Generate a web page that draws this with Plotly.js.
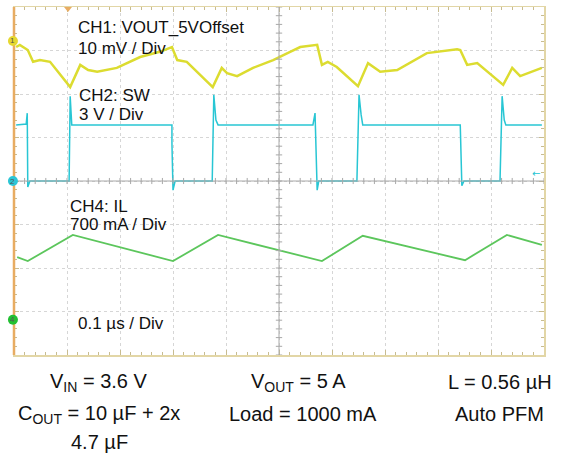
<!DOCTYPE html>
<html>
<head>
<meta charset="utf-8">
<script src="https://cdn.plot.ly/plotly-3.0.1.min.js"></script>
<style>html,body{margin:0;padding:0;background:#fff;}#chart{width:565px;height:458px;}</style>
</head>
<body>
<div id="chart"></div>
<script>
// Time axis in µs (0.1 µs / div), vertical values in screen divisions
var ch1Time = [0.004,0.011,0.026,0.036,0.049,0.068,0.106,0.125,0.140,0.157,0.194,0.238,0.275,0.298,0.308,0.326,0.375,0.392,0.402,0.421,0.451,0.489,0.521,0.540,0.572,0.581,0.592,0.609,0.649,0.668,0.691,0.723,0.779,0.836,0.842,0.855,0.874,0.923,0.940,0.955,0.996];
var ch1Div  = [3.08,3.13,3.01,2.74,2.78,2.74,2.16,2.67,2.55,2.51,2.60,2.85,2.97,3.08,2.78,2.74,2.16,2.60,2.48,2.41,2.60,2.78,2.97,3.08,3.13,2.67,2.74,2.62,2.18,2.71,2.51,2.55,2.94,3.03,3.01,2.67,2.71,2.21,2.60,2.41,2.60];

var ch2Time = [0.004,0.023,0.025,0.026,0.030,0.102,0.104,0.106,0.108,0.109,0.298,0.298,0.300,0.304,0.374,0.377,0.381,0.385,0.564,0.568,0.572,0.575,0.647,0.651,0.655,0.658,0.842,0.843,0.845,0.849,0.917,0.921,0.925,0.928,0.996];
var ch2Div  = [1.29,1.31,1.56,-0.14,0.00,0.00,0.00,1.95,1.45,1.29,1.29,0.87,-0.21,0.00,0.00,1.98,1.40,1.29,1.29,1.56,-0.21,0.00,0.00,1.98,1.52,1.29,1.29,0.76,-0.11,0.00,0.00,1.95,1.40,1.29,1.29];

var ch4Time = [0.006,0.026,0.111,0.300,0.385,0.581,0.658,0.851,0.930,0.996];
var ch4Div  = [-1.75,-1.84,-1.24,-1.84,-1.24,-1.84,-1.26,-1.82,-1.24,-1.47];

var chLabels = [
  {t:'CH1: VOUT_5VOffset', x:76, y:27},
  {t:'10 mV / Div', x:76, y:48},
  {t:'CH2: SW', x:77, y:95},
  {t:'3 V / Div', x:77, y:114},
  {t:'CH4: IL', x:68, y:206},
  {t:'700 mA / Div', x:68, y:225},
  {t:'0.1 µs / Div', x:76, y:323}
];
var noteLabels = [
  {t:'V<sub>IN</sub> = 3.6 V', x:98, y:382},
  {t:'V<sub>OUT</sub> = 5 A', x:298, y:382},
  {t:'L = 0.56 µH', x:500, y:382},
  {t:'C<sub>OUT</sub> = 10 µF + 2x', x:99, y:414},
  {t:'Load = 1000 mA', x:303, y:414},
  {t:'Auto PFM', x:499, y:414},
  {t:'4.7 µF', x:99, y:442}
];

var L = 14, R = 544, T = 7, B = 355;
function px(x){ return (x - L) / (R - L); }
function py(y){ return (B - y) / (B - T); }

var traces = [
  {x: ch1Time, y: ch1Div, mode:'lines', line:{color:'#dcdc30', width:2.5}, hoverinfo:'skip'},
  {x: ch2Time, y: ch2Div, mode:'lines', line:{color:'#28c6d4', width:1.5}, hoverinfo:'skip'},
  {x: ch4Time, y: ch4Div, mode:'lines', line:{color:'#5cc65c', width:1.8}, hoverinfo:'skip'}
];

var shapes = [
  {type:'line', xref:'x', yref:'paper', x0:0.5, x1:0.5, y0:0, y1:1, line:{color:'#a8a8a8', width:1}},
  {type:'line', xref:'paper', yref:'y', x0:0, x1:1, y0:0, y1:0, line:{color:'#a8a8a8', width:1}},
  {type:'line', xref:'paper', yref:'paper', x0:0, x1:0, y0:0, y1:1, line:{color:'#e8ac62', width:2.5}}
];
for (var i = 0; i <= 50; i++) {
  shapes.push({type:'line', xref:'x', yref:'y', x0:i*0.02, x1:i*0.02, y0:-0.07, y1:0.07, line:{color:'#a8a8a8', width:1}});
}
for (var j = 0; j <= 40; j++) {
  shapes.push({type:'line', xref:'x', yref:'y', x0:0.494, x1:0.506, y0:-4+j*0.2, y1:-4+j*0.2, line:{color:'#a8a8a8', width:1}});
}
// channel ground markers
var markers = [{y:3.22, c:'#e6d830', n:'1'}, {y:0, c:'#2cc6d6', n:'2'}, {y:-3.19, c:'#22c032', n:'4'}];
markers.forEach(function(m){
  shapes.push({type:'circle', xref:'paper', yref:'y', xsizemode:'pixel', ysizemode:'pixel', xanchor:-0.002, yanchor:m.y, x0:-5, x1:5, y0:-5, y1:5, fillcolor:m.c, line:{color:m.c, width:0}});
});
// trigger marker
shapes.push({type:'path', xref:'paper', yref:'paper', path:'M '+px(64)+' '+py(7)+' L '+px(72)+' '+py(7)+' L '+px(68)+' '+py(12)+' Z', fillcolor:'#e8ac62', line:{width:0}});

var annotations = [];
chLabels.forEach(function(a){
  annotations.push({text:a.t, xref:'paper', yref:'paper', x:px(a.x), y:py(a.y), xanchor:'left', yanchor:'middle', showarrow:false, font:{family:'Arial, Liberation Sans, sans-serif', size:17, color:'#111'}});
});
noteLabels.forEach(function(a){
  annotations.push({text:a.t, xref:'paper', yref:'paper', x:px(a.x), y:py(a.y), xanchor:'center', yanchor:'middle', showarrow:false, font:{family:'Arial, Liberation Sans, sans-serif', size:20, color:'#111'}});
});
markers.forEach(function(m){
  annotations.push({text:m.n, xref:'paper', yref:'y', x:-0.002, y:m.y, xanchor:'center', yanchor:'middle', showarrow:false, font:{family:'Arial, Liberation Sans, sans-serif', size:8, color:'#555'}});
});
annotations.push({text:'←', xref:'paper', yref:'paper', x:px(536), y:py(173), xanchor:'center', yanchor:'middle', showarrow:false, font:{family:'DejaVu Sans', size:10, color:'#22c4d2'}});

var axisCommon = {showticklabels:false, zeroline:false, showline:true, linecolor:'#e2d6a6', linewidth:1.5, mirror:'ticks',
  ticks:'inside', ticklen:5, tickcolor:'#c8bc90', showgrid:true, gridcolor:'#d6d6d6', griddash:'dot', gridwidth:1, fixedrange:true};

var layout = {
  width:565, height:458,
  margin:{l:L, r:565-R, t:T, b:458-B, pad:0},
  paper_bgcolor:'#ffffff', plot_bgcolor:'#ffffff',
  showlegend:false,
  xaxis: Object.assign({}, axisCommon, {range:[0,1], tick0:0, dtick:0.1, minor:{tick0:0, dtick:0.02, ticks:'inside', ticklen:3, tickcolor:'#c8bc90', showgrid:false}}),
  yaxis: Object.assign({}, axisCommon, {range:[-4,4], tick0:-4, dtick:1, minor:{tick0:-4, dtick:0.2, ticks:'inside', ticklen:3, tickcolor:'#c8bc90', showgrid:false}}),
  shapes: shapes,
  annotations: annotations
};

Plotly.newPlot('chart', traces, layout, {displayModeBar:false, staticPlot:true});
</script>
</body>
</html>
